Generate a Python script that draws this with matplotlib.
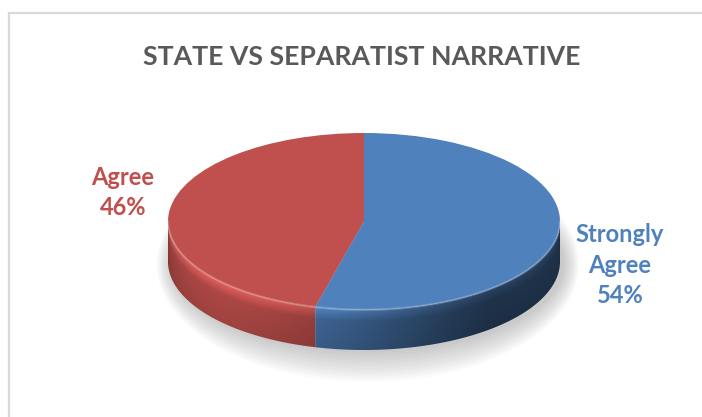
import numpy as np
import matplotlib
matplotlib.use("Agg")
import matplotlib.pyplot as plt
from matplotlib.patches import Ellipse, Polygon
from matplotlib.lines import Line2D
from matplotlib.colors import to_rgb

title = "STATE VS SEPARATIST NARRATIVE"
labels = ["Agree", "Strongly Agree"]
values = [46, 54]
colors = ["#C0504D", "#4F81BD"]

W, H = 702, 417
fig = plt.figure(figsize=(W / 100, H / 100), dpi=100)


def fx(px):
    return px / W


def fy(py):
    return 1 - py / H


# chart frame (only left and top edge visible in the crop)
fig.add_artist(Line2D([fx(8.5), fx(8.5)], [fy(13), 0], color="#D9D9D9", lw=1.6))
fig.add_artist(Line2D([fx(8.5), 1], [fy(13), fy(13)], color="#D9D9D9", lw=1.6))

fig.text(fx(362), fy(65), title, ha="center", va="baseline", fontsize=19.2,
         fontweight="bold", color="#595959", family="Lato")

# pie axes: x radius 196 px, y radius 88 px, side depth 40 px
depth = 40 / 88.0
ax = fig.add_axes([fx(168), fy(350), 392 / W, 217 / H])
wedges, _ = ax.pie(values, colors=colors, startangle=90, counterclock=True,
                   radius=1, wedgeprops=dict(linewidth=0, zorder=4))
ax.set_aspect("auto")
ax.axis("off")

# soft shadow under the pie
for k in range(12):
    sh = Ellipse((0.02, -depth - 0.03), 2.0 + 0.014 * k, 2.0 + 0.06 * k,
                 facecolor="#808080", edgecolor="none", alpha=0.04,
                 zorder=1, clip_on=False)
    ax.add_patch(sh)

# shading image for the side wall (x -> angle on the front half, y -> depth)
nx, ny = 600, 300
xs = np.linspace(-1, 1, nx)
ys = np.linspace(1, -1 - depth, ny)
X, Y = np.meshgrid(xs, ys)
T = 360 - np.degrees(np.arccos(X))
rim = -np.sqrt(np.clip(1 - X ** 2, 0, 1))
f = np.clip((rim - Y) / depth, 0, 1)
light = np.clip(np.cos(np.radians(T - 222)), 0, None)
hshade = 0.40 + 0.52 * light ** 1.5
vshade = 1.0 + 0.30 * np.clip(0.3 - f, 0, None) / 0.3 - 0.10 * f

for w, c in zip(wedges, colors):
    t1, t2 = w.theta1, w.theta2
    base = np.array(to_rgb(c))
    for lo, hi in [(t1, t2), (t1 - 360, t2 - 360)]:
        a, b = max(lo, 180), min(hi, 360)
        if b <= a:
            continue
        ts = np.radians(np.linspace(a, b, 200))
        top = np.column_stack([np.cos(ts), np.sin(ts)])
        bot = np.column_stack([np.cos(ts[::-1]), np.sin(ts[::-1]) - depth])
        path = Polygon(np.vstack([top, bot]), closed=True, facecolor="none",
                       edgecolor="none", transform=ax.transData)
        ax.add_patch(path)
        img = np.clip(base[None, None, :] * (hshade * vshade)[:, :, None], 0, 1)
        im = ax.imshow(img, extent=(-1, 1, -1 - depth, 1), aspect="auto",
                       interpolation="bilinear", zorder=2)
        im.set_clip_path(path)

# light bevel along the front rim of the top face
tt = np.radians(np.linspace(180, 360, 200))
ax.plot(np.cos(tt), np.sin(tt), color="white", alpha=0.22, lw=1.6, zorder=5)
ax.set_xlim(-1, 1)
ax.set_ylim(-1 - depth, 1)

lab_style = dict(ha="center", va="baseline", fontsize=17, fontweight="bold",
                 family="Lato")
for txt, yb in zip(["Agree", "46%"], [185, 215]):
    fig.text(fx(123), fy(yb), txt, color=colors[0], **lab_style)
for txt, yb in zip(["Strongly", "Agree", "54%"], [242, 273, 303]):
    fig.text(fx(620), fy(yb), txt, color=colors[1], **lab_style)

fig.savefig("out.png", dpi=100, facecolor="white")
